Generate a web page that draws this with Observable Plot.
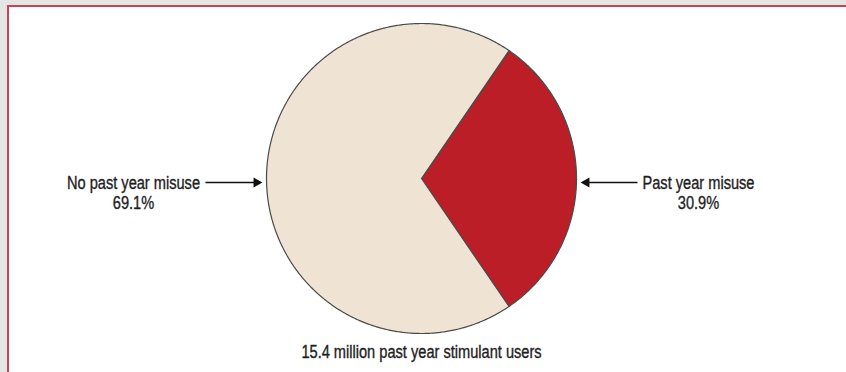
<!DOCTYPE html>
<html>
<head>
<meta charset="utf-8">
<script src="https://cdn.jsdelivr.net/npm/d3@7"></script>
<script src="https://cdn.jsdelivr.net/npm/@observablehq/plot@0.6"></script>
<style>
  html, body { margin: 0; padding: 0; width: 846px; height: 372px; overflow: hidden; background: #e5e5e3; }
  #frame { position: absolute; left: 7px; top: 5px; width: 900px; height: 400px; border-top: 2.5px solid #c8425c; border-left: 2.5px solid #c8425c; background: #ffffff; }
  #chart { position: absolute; left: 0; top: 0; }
  svg { background: transparent !important; }
</style>
</head>
<body>
<div id="frame"></div>
<div id="chart"></div>
<script>
// ---- data ----
const categories = ["Past year misuse", "No past year misuse"];
const percents = [30.9, 69.1];
const percentLabels = ["30.9%", "69.1%"];
const caption = "15.4 million past year stimulant users";

// ---- styles / layout ----
const sliceColors = ["#bb1e27", "#efe4d4"];
const W = 846, H = 372;
const cx = 421, cy = 178, r = 155;
const font = "'Liberation Sans', Arial, sans-serif";
const condense = 0.835;
const textColor = "#1e1e1e";

const slicesData = categories.map((c, i) => ({cat: c, pct: percents[i], label: percentLabels[i]}));

// pie angles (clockwise from 12 o'clock); first slice centred on 3 o'clock
const a0 = Math.PI / 2 - (percents[0] / 100) * Math.PI;
const arcs = d3.pie().sort(null).value(d => d.pct).startAngle(a0).endAngle(a0 + 2 * Math.PI)(slicesData);

const pts = [];
for (const a of arcs) {
  pts.push({cat: a.data.cat, x: cx, y: cy});
  const n = Math.max(2, Math.ceil((a.endAngle - a.startAngle) / (Math.PI / 360)));
  for (let k = 0; k <= n; k++) {
    const t = a.startAngle + (a.endAngle - a.startAngle) * k / n;
    pts.push({cat: a.data.cat, x: cx + r * Math.sin(t), y: cy - r * Math.cos(t)});
  }
  pts.push({cat: a.data.cat, x: cx, y: cy});
}

// label / arrow placement for each slice (left for the larger, right for the smaller)
const side = arcs.map(a => Math.sin((a.startAngle + a.endAngle) / 2) >= 0 ? 1 : -1);
const arrows = arcs.map((a, i) => ({
  cat: a.data.cat,
  x1: cx + side[i] * (r + 61),
  x2: cx + side[i] * (r + 8),
  tip: cx + side[i] * (r + 4),
  y: 182,
  s: side[i]
}));
const labels = arcs.map((a, i) => ({
  text: a.data.cat + "\n" + a.data.label,
  x: side[i] > 0 ? 698 : 133,
  y: 174.5
}));

const plot = Plot.plot({
  width: W,
  height: H,
  margin: 0,
  x: {domain: [0, W], axis: null},
  y: {domain: [0, H], reverse: true, axis: null},
  color: {domain: categories, range: sliceColors},
  style: {fontFamily: font, background: "transparent"},
  marks: [
    Plot.line(pts, {x: "x", y: "y", z: "cat", fill: "cat", stroke: "#4a4a4a", strokeWidth: 1.2, strokeLinejoin: "round"}),
    Plot.link(arrows, {x1: "x1", x2: "x2", y1: "y", y2: "y", stroke: "#111", strokeWidth: 1.6}),
    Plot.dot(arrows.filter(d => d.s < 0), {x: "tip", y: "y", symbol: "triangle", r: 3.8, rotate: 90, dx: -6, fill: "#111", stroke: "none"}),
    Plot.dot(arrows.filter(d => d.s > 0), {x: "tip", y: "y", symbol: "triangle", r: 3.8, rotate: -90, dx: 6, fill: "#111", stroke: "none"}),
    Plot.text(labels, {x: "x", y: "y", text: "text", lineAnchor: "top", lineHeight: 1.15, fontSize: 17.5, fill: textColor, stroke: textColor, strokeWidth: 0.35, textAnchor: "middle"}),
    Plot.text([caption], {x: cx, y: 357, text: d => d, lineAnchor: "bottom", fontSize: 17.5, fill: textColor, stroke: textColor, strokeWidth: 0.35, textAnchor: "middle"})
  ]
});
// emulate a condensed face: compress each text horizontally about its anchor
plot.querySelectorAll("g[aria-label='text'] text").forEach(t => {
  const tr = t.getAttribute("transform") || "";
  t.setAttribute("transform", tr + ` scale(${condense},1)`);
});
document.getElementById("chart").appendChild(plot);
</script>
</body>
</html>
